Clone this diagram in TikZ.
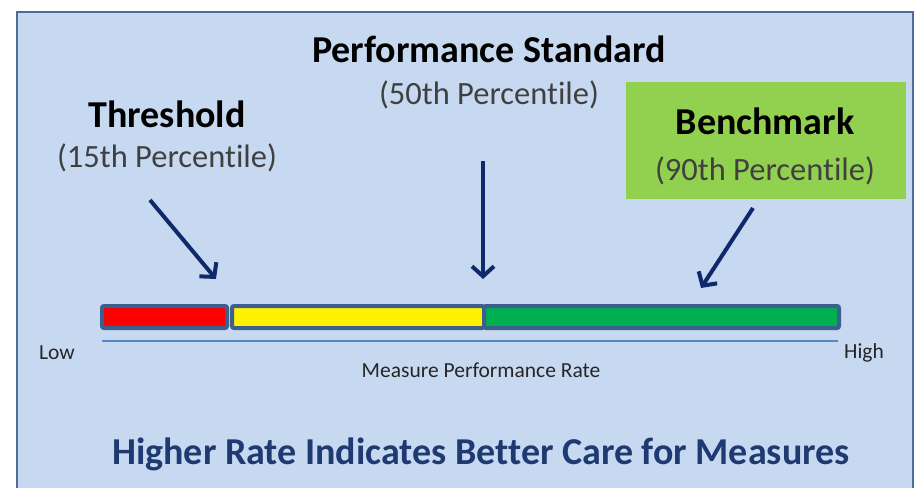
\documentclass[tikz,border=0pt]{standalone}
\usepackage{fontspec}
\setmainfont[Ligatures=NoCommon]{Carlito}
\usepackage{tikz}
\usetikzlibrary{arrows.meta}

\definecolor{panelblue}{HTML}{C6D9F1}
\definecolor{panelline}{HTML}{4F6D99}
\definecolor{barline}{HTML}{3C5F8E}
\definecolor{scaleline}{HTML}{5585C5}
\definecolor{pointer}{HTML}{10296B}
\definecolor{titleblue}{HTML}{1F3A70}
\definecolor{benchgreen}{HTML}{92D050}
\definecolor{subgray}{HTML}{404040}
\definecolor{smallgray}{HTML}{262626}

\tikzset{
  heading/.style = {inner sep=0pt, font=\fontsize{38}{40}\selectfont\bfseries},
  percent/.style = {inner sep=0pt, text=subgray, font=\fontsize{32.5}{34}\selectfont},
  small/.style = {inner sep=0pt, text=smallgray, font=\fontsize{21.5}{23}\selectfont},
  segment/.style = {draw=barline, line width=4pt, rounded corners=2pt},
  pointer/.style = {draw=pointer, line width=4pt, -{Straight Barb[length=10pt,width=22pt]}}
}

\begin{document}
\begin{tikzpicture}[x=1pt, y=-1pt]
\useasboundingbox (0,0) rectangle (917,487);
\fill[white] (0,0) rectangle (917,487);
% background panel, open at the bottom
\fill[panelblue] (17,12) rectangle (913,490);
\draw[panelline, line width=2pt] (17,490) -- (17,12) -- (913,12) -- (913,490);

% benchmark box
\fill[benchgreen] (626,82) rectangle (906,199);

% labels
\node[heading] (std) at (489,49) {Performance Standard};
\node[percent] (std pct) at (489,95) {(50th Percentile)};
\node[heading] (thr) at (167,114) {Threshold};
\node[percent] (thr pct) at (167,158) {(15th Percentile)};
\node[heading] (bench) at (765,121) {Benchmark};
\node[percent] (bench pct) at (765,171) {(90th Percentile)};

% the coloured bar
\draw[segment, fill=red] (102,306) rectangle (227,328);
\draw[segment, fill=yellow] (232,306) rectangle (484,328);
\draw[segment, fill={rgb,255:red,0;green,176;blue,80}] (484,306) rectangle (839,328);

% scale line under the bar
\coordinate (low end) at (102,341);
\coordinate (high end) at (838,341);
\draw[scaleline, line width=2pt] (low end) -- (high end);
\node[small] (low) at (57,353) {Low};
\node[small] (high) at (864,353) {High};
\node[small] (rate) at (481,370) {Measure Performance Rate};

% pointers onto the bar
\coordinate (thr from) at (150,200);
\coordinate (thr to) at (216,279);
\coordinate (std from) at (483,161);
\coordinate (std to) at (483,279);
\coordinate (bench from) at (753,208);
\coordinate (bench to) at (701,288);
\draw[pointer] (thr from) -- (thr to);
\draw[pointer] (std from) -- (std to);
\draw[pointer] (bench from) -- (bench to);

\node[heading, text=titleblue] (note) at (481,454) {Higher Rate Indicates Better Care for Measures};
\end{tikzpicture}
\end{document}
